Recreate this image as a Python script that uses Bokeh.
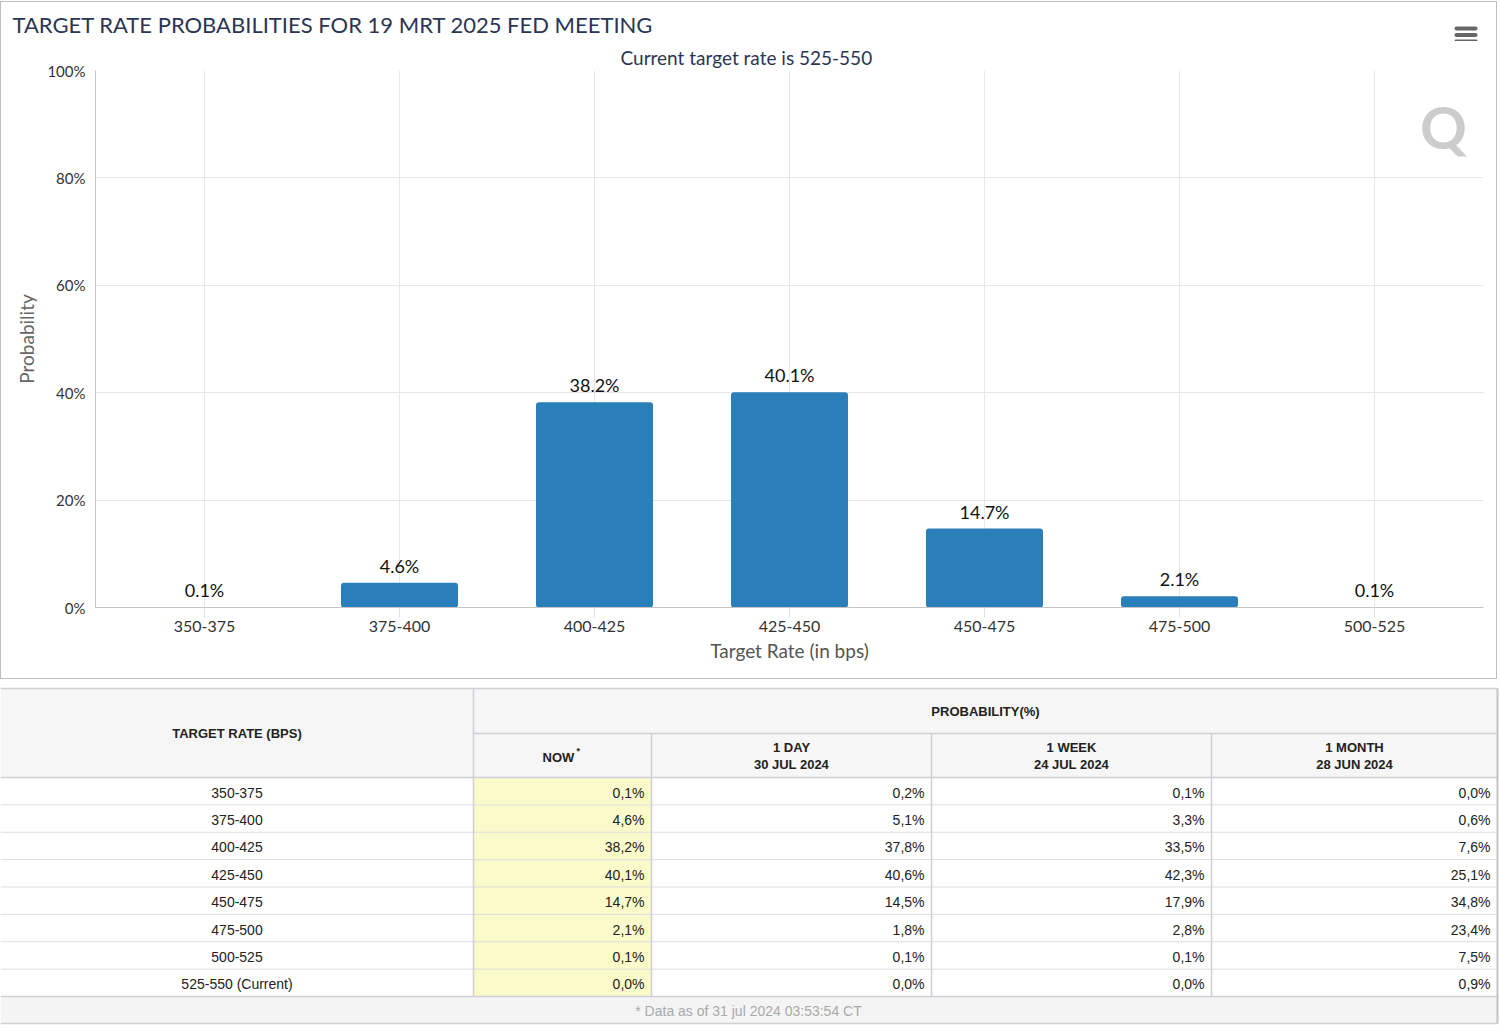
from bokeh.plotting import figure
from bokeh.models import Range1d, FixedTicker, Label
from bokeh.embed import file_html
from bokeh.resources import INLINE
from bokeh.core.properties import value

# ---------------- data ----------------
categories = ["350-375", "375-400", "400-425", "425-450", "450-475", "475-500", "500-525"]
table_rates = ["350-375", "375-400", "400-425", "425-450", "450-475", "475-500", "500-525",
               "525-550 (Current)"]
now = [0.1, 4.6, 38.2, 40.1, 14.7, 2.1, 0.1, 0.0]
one_day = [0.2, 5.1, 37.8, 40.6, 14.5, 1.8, 0.1, 0.0]
one_week = [0.1, 3.3, 33.5, 42.3, 17.9, 2.8, 0.1, 0.0]
one_month = [0.0, 0.6, 7.6, 25.1, 34.8, 23.4, 7.5, 0.9]
y_ticks = [0, 20, 40, 60, 80, 100]
title_text = "TARGET RATE PROBABILITIES FOR 19 MRT 2025 FED MEETING"
subtitle_text = "Current target rate is 525-550"
x_title = "Target Rate (in bps)"
y_title = "Probability"
group_header = "PROBABILITY(%)"
rate_header = "TARGET RATE (BPS)"
col_head_1 = ["NOW", "1 DAY", "1 WEEK", "1 MONTH"]
col_head_2 = ["", "30 JUL 2024", "24 JUL 2024", "28 JUN 2024"]
footnote = "* Data as of 31 jul 2024 03:53:54 CT"

# ---------------- styles ----------------
FONT = "Lato"
TFONT = "Liberation Sans"
NAVY = "#2b3556"
BAR = "#2a7fba"
GRID = "#e6e6e6"
FRAME = "1px solid #bdbdbd"

# ---------------- header strip (title + menu icon) ----------------
HH = 40
h = figure(width=1497, height=HH, output_backend="svg", toolbar_location=None,
           x_range=Range1d(0, 1497), y_range=Range1d(HH, 0), min_border=0,
           x_axis_location=None, y_axis_location=None)
h.styles = {"border-top": FRAME, "border-left": FRAME, "border-right": FRAME,
            "margin-top": "1px"}
h.grid.visible = False
h.outline_line_color = None
h.text(x=[11], y=[22], text=[title_text], text_align="left", text_baseline="middle",
       text_font=value(FONT), text_font_size="22px", text_color=NAVY)
# menu icon: three rounded bars
h.quad(left=[1453] * 3, right=[1476] * 3, top=[24, 30.5, 37], bottom=[28, 34.5, 39.5],
       fill_color="#666666", line_color=None, border_radius=2)

# ---------------- chart ----------------
n = len(categories)
idx = list(range(n))
pad = 0.059
p = figure(width=1497, height=638, output_backend="svg", toolbar_location=None,
           x_range=Range1d(-0.5 - pad, n - 0.5 + pad), y_range=Range1d(0, 100),
           min_border_left=94, min_border_right=15, min_border_top=26, min_border_bottom=72,
           background_fill_color="white", border_fill_color="white")
p.styles = {"border-bottom": FRAME, "border-left": FRAME, "border-right": FRAME}
p.outline_line_color = None

p.title.text = subtitle_text
p.title.align = "left"
p.title.offset = 525
p.title.text_font = FONT
p.title.text_font_size = "19px"
p.title.text_color = NAVY
p.title.text_font_style = "normal"
p.title.standoff = 4

p.xaxis.ticker = FixedTicker(ticks=idx)
p.xaxis.major_label_overrides = {i: c for i, c in enumerate(categories)}
p.xaxis.axis_line_color = "#c4c4c4"
p.xaxis.major_tick_out = 10
p.xaxis.major_tick_in = 0
p.xaxis.major_tick_line_color = "#e0e0e0"
p.xaxis.minor_tick_line_color = None
p.xaxis.major_label_standoff = 3
p.xaxis.major_label_text_font = FONT
p.xaxis.major_label_text_font_size = "16px"
p.xaxis.major_label_text_color = "#333333"
p.xaxis.axis_label = x_title
p.xaxis.axis_label_text_font = FONT
p.xaxis.axis_label_text_font_size = "19px"
p.xaxis.axis_label_text_font_style = "normal"
p.xaxis.axis_label_text_color = "#555555"
p.xaxis.axis_label_standoff = 4

p.yaxis.ticker = FixedTicker(ticks=y_ticks)
p.yaxis.major_label_overrides = {t: f"{t}%" for t in y_ticks}
p.yaxis.axis_line_color = "#c4c4c4"
p.yaxis.major_tick_out = 0
p.yaxis.major_tick_in = 0
p.yaxis.minor_tick_line_color = None
p.yaxis.major_label_standoff = 10
p.yaxis.major_label_text_font = FONT
p.yaxis.major_label_text_font_size = "15px"
p.yaxis.major_label_text_color = "#333333"
p.yaxis.axis_label = y_title
p.yaxis.axis_label_text_font = FONT
p.yaxis.axis_label_text_font_size = "19px"
p.yaxis.axis_label_text_font_style = "normal"
p.yaxis.axis_label_text_color = "#666666"
p.yaxis.axis_label_standoff = 6

p.xgrid.grid_line_color = GRID
p.ygrid.grid_line_color = GRID

bar_vals = now[:n]
p.vbar(x=idx, top=bar_vals, width=0.6, fill_color=BAR, line_color=None, border_radius=3)
p.text(x=idx, y=bar_vals, text=[f"{v:.1f}%" for v in bar_vals], text_align="center",
       text_baseline="bottom", y_offset=-6, text_font=value(FONT), text_font_size="18px",
       text_color="#111111")

# watermark (decoration)
p.add_layout(Label(x=1348, y=481, x_units="screen", y_units="screen", text="Q",
                   text_font=FONT, text_font_size="58px", text_font_style="bold",
                   text_color="#cccccc", text_align="center", text_baseline="middle"))

# ---------------- table ----------------
TH = 347
t = figure(width=1500, height=TH, output_backend="svg", toolbar_location=None,
           x_range=Range1d(0, 1500), y_range=Range1d(TH, 0), min_border=0,
           x_axis_location=None, y_axis_location=None)
t.grid.visible = False
t.outline_line_color = None

top = 9
h1 = 54
h2 = 98
row_h = 27.375
nrows = len(table_rates)
data_end = h2 + row_h * nrows
foot_end = data_end + 27
edges = [0, 473, 651, 931, 1211, 1497]
LINE = "#cfcfd6"

t.quad(left=[0], right=[edges[-1]], top=[top], bottom=[h2], fill_color="#f6f6f6", line_color=None)
t.quad(left=[edges[1]], right=[edges[2]], top=[h2], bottom=[data_end], fill_color="#fafacb",
       line_color=None)
t.quad(left=[0], right=[edges[-1]], top=[data_end], bottom=[foot_end], fill_color="#f4f4f4",
       line_color=None)

row_lines = [h2 + row_h * i for i in range(1, nrows)]
t.segment(x0=[0] * len(row_lines), x1=[edges[-1]] * len(row_lines), y0=row_lines, y1=row_lines,
          line_color="#dddddd", line_width=1)
t.segment(x0=[0, edges[1], 0, 0, 0], x1=[edges[-1]] * 5, y0=[top, h1, h2, data_end, foot_end],
          y1=[top, h1, h2, data_end, foot_end], line_color=LINE, line_width=1.5)
t.segment(x0=[edges[1]], x1=[edges[1]], y0=[top], y1=[data_end], line_color=LINE, line_width=1.5)
t.segment(x0=edges[2:5], x1=edges[2:5], y0=[h1] * 3, y1=[data_end] * 3, line_color=LINE,
          line_width=1.5)
t.segment(x0=[edges[-1]], x1=[edges[-1]], y0=[top], y1=[foot_end], line_color="#c4c4c4",
          line_width=2)

hdr = dict(text_font=value(TFONT), text_font_size="13px", text_font_style="bold",
           text_color="#222222", text_baseline="middle", text_align="center")
t.text(x=[edges[0] + (edges[1] - edges[0]) / 2], y=[(top + h2) / 2], text=[rate_header], **hdr)
t.text(x=[(edges[1] + edges[-1]) / 2], y=[(top + h1) / 2], text=[group_header], **hdr)
cx = [(edges[i] + edges[i + 1]) / 2 for i in range(1, 5)]
mid2 = (h1 + h2) / 2
t.text(x=[cx[0] - 4], y=[mid2 + 2], text=col_head_1[:1], **hdr)
t.text(x=[cx[0] + 14], y=[mid2 - 5], text=["*"], text_font=value(TFONT), text_font_size="9px",
       text_font_style="bold", text_color="#222222", text_baseline="middle", text_align="left")
t.text(x=cx[1:], y=[mid2 - 8] * 3, text=col_head_1[1:], **hdr)
t.text(x=cx[1:], y=[mid2 + 9] * 3, text=col_head_2[1:], **hdr)

cell = dict(text_font=value(TFONT), text_font_size="14px", text_color="#222222",
            text_baseline="middle")
row_mid = [h2 + row_h * (i + 0.5) + 1.5 for i in range(nrows)]
t.text(x=[(edges[0] + edges[1]) / 2] * nrows, y=row_mid, text=table_rates, text_align="center",
       **cell)
for k, series in enumerate([now, one_day, one_week, one_month]):
    t.text(x=[edges[k + 2] - 7] * nrows, y=row_mid,
           text=[f"{v:.1f}%".replace(".", ",") for v in series], text_align="right", **cell)

t.text(x=[748], y=[(data_end + foot_end) / 2 + 1], text=[footnote], text_align="center",
       text_baseline="middle", text_font=value(TFONT), text_font_size="14px",
       text_color="#aaaaaa")

open("out.html", "w").write(file_html([h, p, t], INLINE))
